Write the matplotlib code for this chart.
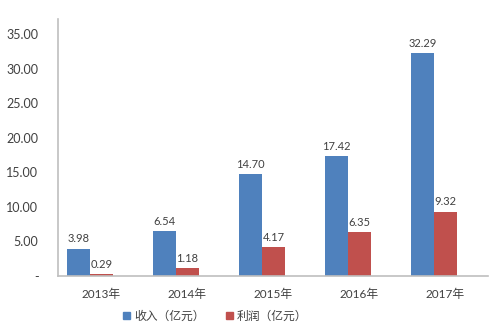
import matplotlib.pyplot as plt
from matplotlib.patches import Patch

plt.rcParams['font.family'] = ['Lato', 'Noto Sans CJK SC', 'DejaVu Sans']

years = ['2013年', '2014年', '2015年', '2016年', '2017年']
revenue = [3.98, 6.54, 14.70, 17.42, 32.29]
profit = [0.29, 1.18, 4.17, 6.35, 9.32]
yticks = [0, 5, 10, 15, 20, 25, 30, 35]

blue = '#4F81BD'
red = '#C0504D'
txt = '#404040'

fig = plt.figure(figsize=(4.99, 3.30), dpi=100)
ax = fig.add_axes([0.116, 0.1636, 0.862, 0.7788])

w = 0.267
x = list(range(len(years)))
xb = [i - 0.395 for i in x]
xr = [i - 0.128 for i in x]
ax.bar(xb, revenue, width=w, align='edge', color=blue)
ax.bar(xr, profit, width=w, align='edge', color=red)

for i in x:
    ax.text(xb[i] + w / 2, revenue[i] + 0.6, '%.2f' % revenue[i],
            ha='center', va='bottom', fontsize=8, color=txt)
    ax.text(xr[i] + w / 2, profit[i] + 0.6, '%.2f' % profit[i],
            ha='center', va='bottom', fontsize=8, color=txt)

ax.set_xlim(-0.5, 4.5)
ax.set_ylim(0, 37.2)
ax.set_xticks(x)
ax.set_xticklabels(years, fontsize=8.5, color=txt)
ax.set_yticks(yticks)
ax.set_yticklabels(['-' if v == 0 else '%.2f' % v for v in yticks],
                   fontsize=9, color=txt)
ax.tick_params(axis='both', length=0)
ax.tick_params(axis='y', pad=14)
ax.tick_params(axis='x', pad=9)

for s in ['top', 'right']:
    ax.spines[s].set_visible(False)
for s in ['left', 'bottom']:
    ax.spines[s].set_color('#BFBFBF')
    ax.spines[s].set_linewidth(1.2)

handles = [Patch(color=blue, label='收入（亿元）'),
           Patch(color=red, label='利润（亿元）')]
fig.legend(handles=handles, loc='center', bbox_to_anchor=(0.431, 0.042),
           ncol=2, frameon=False, fontsize=8.5, handlelength=0.6,
           handleheight=0.6, handletextpad=0.3, columnspacing=1.8,
           labelcolor=txt)

fig.savefig('out.png', dpi=100)
